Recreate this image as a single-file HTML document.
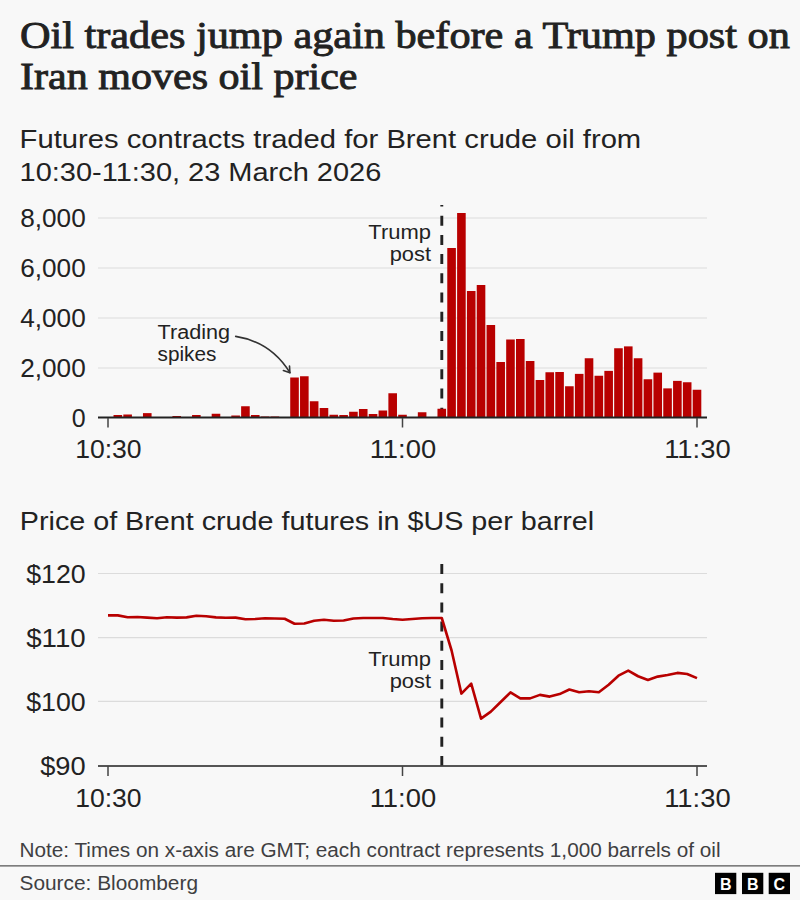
<!DOCTYPE html>
<html><head><meta charset="utf-8">
<style>
html,body{margin:0;padding:0;background:#f8f8f8;}
body{width:800px;height:900px;overflow:hidden;}
svg{display:block;}
text{font-family:"Liberation Sans",sans-serif;fill:#222;}
.serif{font-family:"Liberation Serif",serif;stroke:#222;stroke-width:0.9px;}
</style></head><body>
<svg width="800" height="900" viewBox="0 0 800 900">
<rect width="800" height="900" fill="#f8f8f8"/>
<text class="serif" x="20" y="48" font-size="38" textLength="769.8" lengthAdjust="spacingAndGlyphs">Oil trades jump again before a Trump post on</text>
<text class="serif" x="20" y="89" font-size="38" textLength="337.5" lengthAdjust="spacingAndGlyphs">Iran moves oil price</text>
<text x="19.6" y="147.8" font-size="26" textLength="621.6" lengthAdjust="spacingAndGlyphs">Futures contracts traded for Brent crude oil from</text>
<text x="19.6" y="180.7" font-size="26" textLength="361.7" lengthAdjust="spacingAndGlyphs">10:30-11:30, 23 March 2026</text>

<!-- chart 1 -->
<g stroke="#dcdcdc" stroke-width="1.2">
<line x1="98" y1="218" x2="707" y2="218"/>
<line x1="98" y1="268" x2="707" y2="268"/>
<line x1="98" y1="318" x2="707" y2="318"/>
<line x1="98" y1="368" x2="707" y2="368"/>
</g>
<g font-size="25" text-anchor="end" transform="translate(1.2,0)">
<text x="84.5" y="227.2" textLength="65.5" lengthAdjust="spacingAndGlyphs">8,000</text>
<text x="84.5" y="277.2" textLength="65.5" lengthAdjust="spacingAndGlyphs">6,000</text>
<text x="84.5" y="327.2" textLength="65.5" lengthAdjust="spacingAndGlyphs">4,000</text>
<text x="84.5" y="377.2" textLength="65.5" lengthAdjust="spacingAndGlyphs">2,000</text>
<text x="84.5" y="427.2">0</text>
</g>
<path d="M441.8,417.7 V205" stroke="#222" stroke-width="2.9" stroke-dasharray="10 9.2"/>
<g fill="#b80000">
<rect x="113.52" y="415.00" width="8.6" height="2.50"/><rect x="123.33" y="414.50" width="8.6" height="3.00"/><rect x="133.15" y="417.00" width="8.6" height="0.50"/><rect x="142.97" y="413.12" width="8.6" height="4.38"/><rect x="152.78" y="417.00" width="8.6" height="0.50"/><rect x="162.60" y="417.00" width="8.6" height="0.50"/><rect x="172.42" y="416.00" width="8.6" height="1.50"/><rect x="182.23" y="417.00" width="8.6" height="0.50"/><rect x="192.05" y="415.00" width="8.6" height="2.50"/><rect x="201.87" y="417.00" width="8.6" height="0.50"/><rect x="211.68" y="413.75" width="8.6" height="3.75"/><rect x="221.50" y="417.00" width="8.6" height="0.50"/><rect x="231.32" y="415.50" width="8.6" height="2.00"/><rect x="241.13" y="406.25" width="8.6" height="11.25"/><rect x="250.95" y="415.00" width="8.6" height="2.50"/><rect x="260.77" y="416.50" width="8.6" height="1.00"/><rect x="270.58" y="416.50" width="8.6" height="1.00"/><rect x="280.40" y="417.00" width="8.6" height="0.50"/><rect x="290.22" y="377.50" width="8.6" height="40.00"/><rect x="300.03" y="376.25" width="8.6" height="41.25"/><rect x="309.85" y="401.25" width="8.6" height="16.25"/><rect x="319.67" y="408.00" width="8.6" height="9.50"/><rect x="329.48" y="414.75" width="8.6" height="2.75"/><rect x="339.30" y="415.00" width="8.6" height="2.50"/><rect x="349.12" y="411.75" width="8.6" height="5.75"/><rect x="358.93" y="409.00" width="8.6" height="8.50"/><rect x="368.75" y="414.00" width="8.6" height="3.50"/><rect x="378.57" y="410.50" width="8.6" height="7.00"/><rect x="388.38" y="393.25" width="8.6" height="24.25"/><rect x="398.20" y="414.75" width="8.6" height="2.75"/><rect x="408.02" y="417.00" width="8.6" height="0.50"/><rect x="417.83" y="412.25" width="8.6" height="5.25"/><rect x="427.65" y="417.00" width="8.6" height="0.50"/><rect x="437.47" y="408.75" width="8.6" height="8.75"/><rect x="447.28" y="248.00" width="8.6" height="169.50"/><rect x="457.10" y="213.00" width="8.6" height="204.50"/><rect x="466.92" y="291.00" width="8.6" height="126.50"/><rect x="476.73" y="285.00" width="8.6" height="132.50"/><rect x="486.55" y="325.00" width="8.6" height="92.50"/><rect x="496.37" y="362.00" width="8.6" height="55.50"/><rect x="506.18" y="339.50" width="8.6" height="78.00"/><rect x="516.00" y="339.00" width="8.6" height="78.50"/><rect x="525.82" y="361.00" width="8.6" height="56.50"/><rect x="535.63" y="380.00" width="8.6" height="37.50"/><rect x="545.45" y="372.25" width="8.6" height="45.25"/><rect x="555.27" y="372.00" width="8.6" height="45.50"/><rect x="565.08" y="386.25" width="8.6" height="31.25"/><rect x="574.90" y="373.88" width="8.6" height="43.62"/><rect x="584.72" y="358.25" width="8.6" height="59.25"/><rect x="594.53" y="375.75" width="8.6" height="41.75"/><rect x="604.35" y="370.88" width="8.6" height="46.62"/><rect x="614.17" y="348.25" width="8.6" height="69.25"/><rect x="623.98" y="346.38" width="8.6" height="71.12"/><rect x="633.80" y="358.25" width="8.6" height="59.25"/><rect x="643.62" y="379.25" width="8.6" height="38.25"/><rect x="653.43" y="372.62" width="8.6" height="44.88"/><rect x="663.25" y="388.38" width="8.6" height="29.12"/><rect x="673.07" y="380.88" width="8.6" height="36.62"/><rect x="682.88" y="382.25" width="8.6" height="35.25"/><rect x="692.70" y="389.75" width="8.6" height="27.75"/>
</g>
<line x1="98" y1="417.5" x2="707" y2="417.5" stroke="#222" stroke-width="2"/>
<g stroke="#444" stroke-width="1.5">
<line x1="108" y1="418" x2="108" y2="427.5"/>
<line x1="402.5" y1="418" x2="402.5" y2="427.5"/>
<line x1="697" y1="418" x2="697" y2="427.5"/>
</g>
<g font-size="25" text-anchor="middle">
<text x="108.4" y="458.2" textLength="66.5" lengthAdjust="spacingAndGlyphs">10:30</text>
<text x="402.9" y="458.2" textLength="66.5" lengthAdjust="spacingAndGlyphs">11:00</text>
<text x="697.4" y="458.2" textLength="66.5" lengthAdjust="spacingAndGlyphs">11:30</text>
</g>
<g font-size="20">
<text x="157.6" y="338.9" textLength="72.5" lengthAdjust="spacingAndGlyphs">Trading</text>
<text x="157.6" y="361.1" textLength="58.8" lengthAdjust="spacingAndGlyphs">spikes</text>
<text x="431" y="238.5" text-anchor="end" textLength="62.7" lengthAdjust="spacingAndGlyphs">Trump</text>
<text x="431" y="261" text-anchor="end" textLength="41.3" lengthAdjust="spacingAndGlyphs">post</text>
</g>
<g fill="none" stroke="#333" stroke-width="1.6" stroke-linecap="round" stroke-linejoin="round">
<path d="M235.7,336.4 Q271,342 289.9,372.7"/>
<path d="M289.5,366 L289.9,372.7 L283.4,370.5"/>
</g>

<!-- chart 2 -->
<text x="19.8" y="529.5" font-size="26" textLength="574.4" lengthAdjust="spacingAndGlyphs">Price of Brent crude futures in $US per barrel</text>
<g stroke="#dcdcdc" stroke-width="1.2">
<line x1="98" y1="573.5" x2="707" y2="573.5"/>
<line x1="98" y1="637.6" x2="707" y2="637.6"/>
<line x1="98" y1="701.3" x2="707" y2="701.3"/>
</g>
<g font-size="25" text-anchor="end" transform="translate(1.2,0)">
<text x="84.5" y="582.5" textLength="59.5" lengthAdjust="spacingAndGlyphs">$120</text>
<text x="84.5" y="646.6" textLength="59.5" lengthAdjust="spacingAndGlyphs">$110</text>
<text x="84.5" y="710.7" textLength="59.5" lengthAdjust="spacingAndGlyphs">$100</text>
<text x="84.5" y="774.8" textLength="45.5" lengthAdjust="spacingAndGlyphs">$90</text>
</g>
<line x1="98" y1="766" x2="707" y2="766" stroke="#555" stroke-width="2"/>
<g stroke="#444" stroke-width="1.5">
<line x1="108" y1="766" x2="108" y2="776"/>
<line x1="402.5" y1="766" x2="402.5" y2="776"/>
<line x1="697" y1="766" x2="697" y2="776"/>
</g>
<g font-size="25" text-anchor="middle">
<text x="108.4" y="806.8" textLength="66.5" lengthAdjust="spacingAndGlyphs">10:30</text>
<text x="402.9" y="806.8" textLength="66.5" lengthAdjust="spacingAndGlyphs">11:00</text>
<text x="697.4" y="806.8" textLength="66.5" lengthAdjust="spacingAndGlyphs">11:30</text>
</g>
<path d="M441.8,564 V765.4" stroke="#222" stroke-width="2.9" stroke-dasharray="10 9.2"/>
<polyline points="108.00,615.40 117.82,615.40 127.63,617.20 137.45,617.00 147.27,617.60 157.08,618.30 166.90,617.20 176.72,617.60 186.53,617.40 196.35,615.80 206.17,616.25 215.98,617.40 225.80,617.80 235.62,617.60 245.43,619.20 255.25,619.00 265.07,618.25 274.88,618.50 284.70,618.75 294.52,623.75 304.33,623.50 314.15,620.75 323.97,619.75 333.78,620.75 343.60,620.50 353.42,618.50 363.23,618.00 373.05,618.00 382.87,618.00 392.68,619.00 402.50,619.75 412.32,619.00 422.13,618.25 431.95,618.00 441.77,618.00 451.58,650.50 461.40,693.60 471.22,683.65 481.03,718.65 490.85,711.65 500.67,702.00 510.48,692.40 520.30,698.35 530.12,698.35 539.93,694.85 549.75,696.60 559.57,694.10 569.38,689.50 579.20,692.20 589.02,691.25 598.83,692.20 608.65,684.70 618.47,675.70 628.28,670.60 638.10,676.25 647.92,680.00 657.73,676.60 667.55,675.00 677.37,672.90 687.18,674.00 697.00,678.10" fill="none" stroke="#b80000" stroke-width="2.6" stroke-linejoin="round"/>
<g font-size="20">
<text x="431" y="665.7" text-anchor="end" textLength="62.7" lengthAdjust="spacingAndGlyphs">Trump</text>
<text x="431" y="687.5" text-anchor="end" textLength="41.3" lengthAdjust="spacingAndGlyphs">post</text>
</g>

<!-- footer -->
<text x="19.5" y="857" font-size="20" style="fill:#3f3f42" textLength="701" lengthAdjust="spacingAndGlyphs">Note: Times on x-axis are GMT; each contract represents 1,000 barrels of oil</text>
<line x1="0" y1="865.8" x2="800" y2="865.8" stroke="#555" stroke-width="1.2"/>
<text x="19.5" y="890" font-size="20" style="fill:#3f3f42" textLength="178.5" lengthAdjust="spacingAndGlyphs">Source: Bloomberg</text>
<g>
<rect x="715" y="872.8" width="21.3" height="21.3" fill="#000"/>
<rect x="742" y="872.8" width="21.3" height="21.3" fill="#000"/>
<rect x="768.7" y="872.8" width="21.3" height="21.3" fill="#000"/>
<g font-size="16" font-weight="bold" text-anchor="middle" style="fill:#fff">
<text x="725.7" y="890" style="fill:#fff">B</text>
<text x="752.7" y="890" style="fill:#fff">B</text>
<text x="779.4" y="890" style="fill:#fff">C</text>
</g>
</g>
</svg>
</body></html>
